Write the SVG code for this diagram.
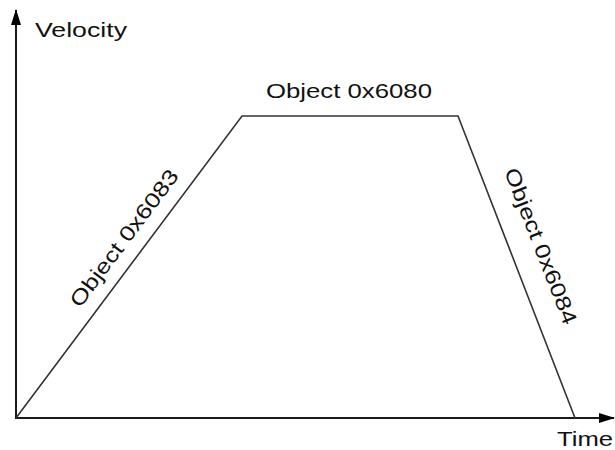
<svg xmlns="http://www.w3.org/2000/svg" width="615" height="450" viewBox="0 0 615 450">
  <style>
    .axis { stroke: #1a1a1a; stroke-width: 2; fill: none; }
    .curve { stroke: #333; stroke-width: 1.6; fill: none; stroke-linejoin: miter; }
    .lbl { font-family: "Liberation Sans", Arial, sans-serif; font-size: 21px; fill: #111; }
  </style>
  <defs>
    <marker id="arrow" markerWidth="16" markerHeight="10" refX="15" refY="5" orient="auto" markerUnits="userSpaceOnUse">
      <path d="M0,0 L16,5 L0,10 Z" fill="#000"/>
    </marker>
  </defs>
  <rect width="615" height="450" fill="#fff"/>

  <!-- axes -->
  <g id="axes">
    <line class="axis" x1="16" y1="419" x2="16" y2="10" marker-end="url(#arrow)"/>
    <line class="axis" x1="15" y1="418" x2="614" y2="418" marker-end="url(#arrow)"/>
    <text class="lbl" x="35" y="37" textLength="92" lengthAdjust="spacingAndGlyphs">Velocity</text>
    <text class="lbl" x="557" y="446" textLength="56" lengthAdjust="spacingAndGlyphs">Time</text>
  </g>

  <!-- trapezoidal velocity profile -->
  <g id="connectors">
    <polyline class="curve" points="16,418 242,116 458,116 575,418"/>
  </g>

  <g id="accel">
    <text class="lbl" text-anchor="middle" dy="0.35em" transform="translate(124,238) rotate(-53.1)" textLength="166" lengthAdjust="spacingAndGlyphs">Object 0x6083</text>
  </g>
  <g id="profile-velocity">
    <text class="lbl" x="266" y="98" textLength="166" lengthAdjust="spacingAndGlyphs">Object 0x6080</text>
  </g>
  <g id="decel">
    <text class="lbl" text-anchor="middle" dy="0.35em" transform="translate(541,246) rotate(68.7)" textLength="166" lengthAdjust="spacingAndGlyphs">Object 0x6084</text>
  </g>
</svg>
